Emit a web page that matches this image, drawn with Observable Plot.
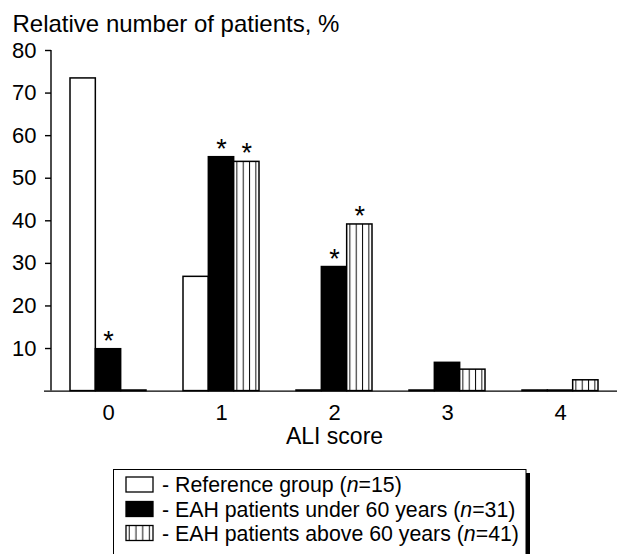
<!DOCTYPE html>
<html>
<head>
<meta charset="utf-8">
<script src="https://cdn.jsdelivr.net/npm/d3@7"></script>
<script src="https://cdn.jsdelivr.net/npm/@observablehq/plot@0.6"></script>
<style>
  html, body { margin: 0; padding: 0; background: #fff; }
  #chart svg { display: block; }
</style>
</head>
<body>
<div id="chart"></div>
<script>
// ---- data ----
const scores = ["0", "1", "2", "3", "4"];
const refGroup = [73.3, 26.7, 0, 0, 0];
const under60 = [9.7, 54.8, 29.0, 6.5, 0];
const above60 = [0, 53.7, 39.0, 4.9, 2.4];
const sigUnder = [true, true, true, false, false];
const sigAbove = [false, true, true, false, false];
const yTicks = [10, 20, 30, 40, 50, 60, 70, 80];
const seriesNames = ["Reference group", "EAH patients under 60 years", "EAH patients above 60 years"];
const seriesN = [15, 31, 41];
const yTitle = "Relative number of patients, %";
const xTitle = "ALI score";

const FONT = "'Liberation Sans', Arial, Helvetica, sans-serif";
const W = 617, H = 554;
const mLeft = 51, mTop = 50, zeroY = 390.6;
const padIn = 0.328, padOut = 0.166;
const step = (W - mLeft) / (scores.length - padIn + 2 * padOut);
const bw = step * (1 - padIn) / 3;

const fills = ["white", "black", "url(#vstripes)"];
const series = [refGroup, under60, above60];

const barMarks = series.map((vals, k) =>
  Plot.barY(scores.map((s, i) => ({score: s, value: vals[i]})), {
    x: "score", y: "value",
    fill: fills[k], stroke: "black", strokeWidth: 1.5,
    insetLeft: k * bw, insetRight: (2 - k) * bw,
    insetTop: -0.6
  })
);

const starData = (vals, sig) => scores.map((s, i) => ({score: s, value: vals[i], sig: sig[i]})).filter(d => d.sig);

const chart = Plot.plot({
  width: W, height: H,
  marginLeft: mLeft, marginRight: 0, marginTop: mTop, marginBottom: H - zeroY,
  style: {fontFamily: FONT, color: "black", background: "white"},
  x: {type: "band", domain: scores, paddingInner: padIn, paddingOuter: padOut, align: 0.5},
  y: {domain: [0, 80]},
  marks: [
    ...barMarks,
    Plot.text(starData(under60, sigUnder), {x: "score", y: "value", text: () => "*", fontSize: 27, lineAnchor: "bottom", dy: 0, fill: "black"}),
    Plot.text(starData(above60, sigAbove), {x: "score", y: "value", text: () => "*", fontSize: 27, lineAnchor: "bottom", dy: 0, dx: bw, fill: "black"}),
    Plot.ruleY([0], {stroke: "black", strokeWidth: 1.2, insetLeft: -7}),
    Plot.axisY({ticks: yTicks, tickSize: 6, tickPadding: 9, fontSize: 22, label: null, tickFormat: d => String(d), strokeWidth: 1.4}),
    Plot.axisX({tickSize: 0, tickPadding: 13, fontSize: 22, label: null}),
    Plot.text([yTitle], {frameAnchor: "top-left", textAnchor: "start", lineAnchor: "bottom", dx: 12 - mLeft, dy: 31 - mTop, fontSize: 24, fill: "black"}),
    Plot.text([xTitle], {frameAnchor: "bottom", lineAnchor: "bottom", dy: 443 - zeroY, fontSize: 23, fill: "black"})
  ]
});

document.getElementById("chart").appendChild(chart);

const svg = d3.select(chart);

// vertical axis line, placed with the chart's own y scale
const yScale = chart.scale("y");
svg.append("line")
  .attr("x1", mLeft).attr("x2", mLeft)
  .attr("y1", yScale.apply(80)).attr("y2", yScale.apply(0))
  .attr("stroke", "black").attr("stroke-width", 1.4);

// pattern definition for hatched bars
const defs = svg.insert("defs", ":first-child");
const pat = defs.append("pattern").attr("id", "vstripes")
  .attr("patternUnits", "objectBoundingBox").attr("width", 0.25).attr("height", 1);
pat.append("rect").attr("width", 100).attr("height", 2000).attr("fill", "white");
pat.append("line").attr("x1", 3.2).attr("x2", 3.2).attr("y1", 0).attr("y2", 2000)
  .attr("stroke", "#111").attr("stroke-width", 1);

// legend
const lg = svg.append("g").attr("font-family", FONT).attr("text-anchor", "start");
lg.append("rect").attr("x", 526).attr("y", 473).attr("width", 4).attr("height", 100).attr("fill", "black");
lg.append("rect").attr("x", 113.5).attr("y", 469.5).attr("width", 412.5).attr("height", 100)
  .attr("fill", "white").attr("stroke", "black").attr("stroke-width", 1);
const rowTop = [477, 501.5, 525.5];
const rowBase = [492, 516.5, 541];
seriesNames.forEach((name, k) => {
  lg.append("rect").attr("x", 126).attr("y", rowTop[k]).attr("width", 27).attr("height", 15)
    .attr("fill", fills[k]).attr("stroke", "black").attr("stroke-width", 1.3);
  const t = lg.append("text").attr("x", 162).attr("y", rowBase[k]).attr("font-size", 21.3)
    .attr("fill", "black").attr("text-anchor", "start");
  t.append("tspan").text(`- ${name} (`);
  t.append("tspan").attr("font-style", "italic").text("n");
  t.append("tspan").text(`=${seriesN[k]})`);
});
</script>
</body>
</html>
